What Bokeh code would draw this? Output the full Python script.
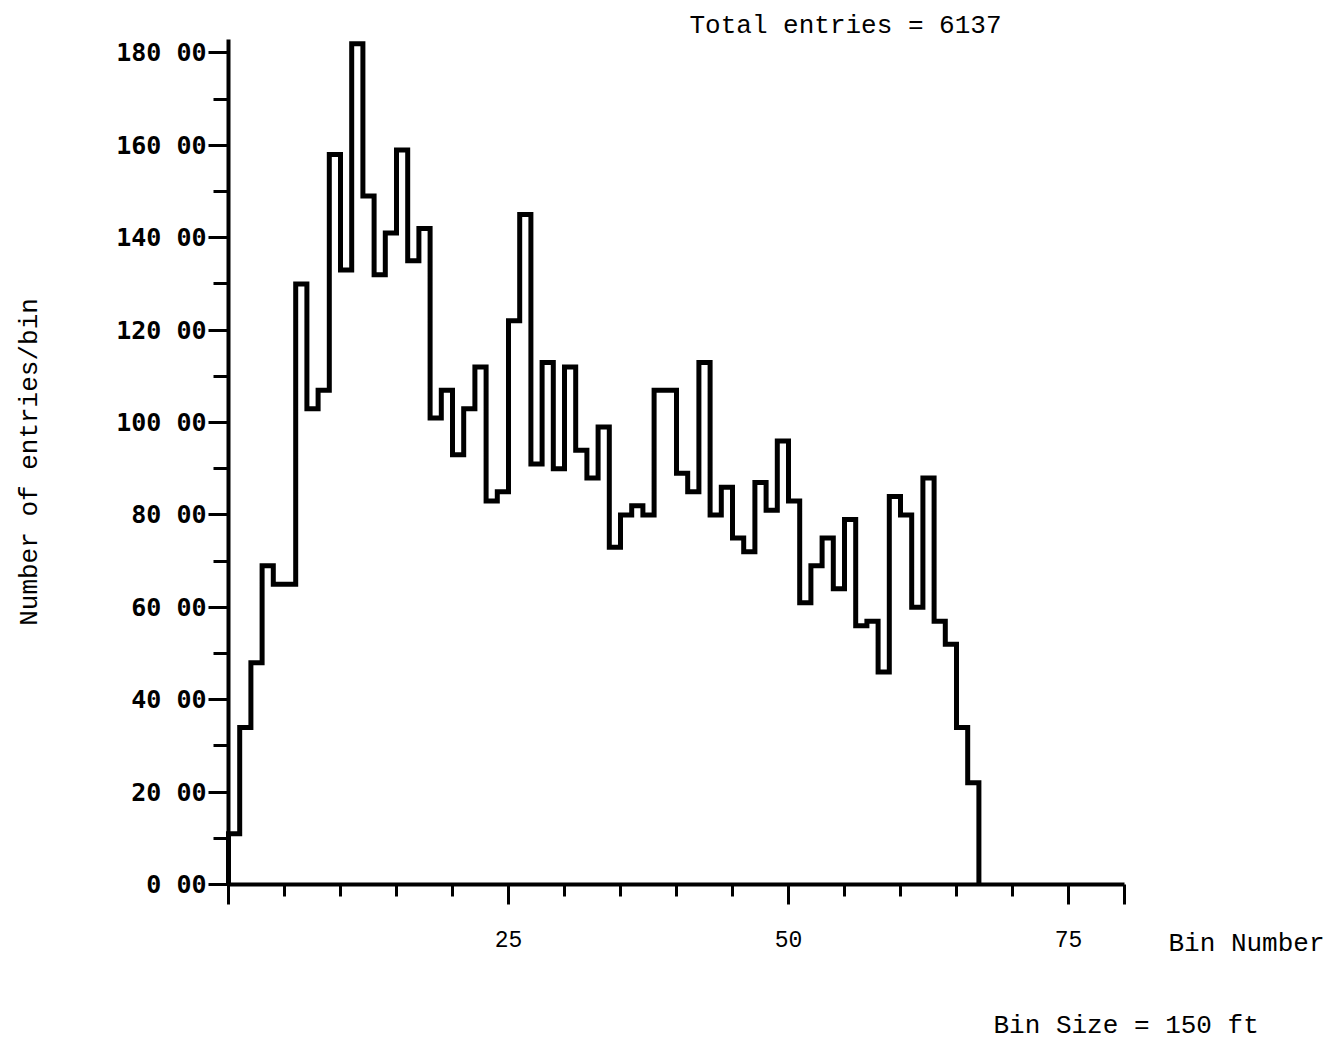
from bokeh.plotting import figure
from bokeh.models import FixedTicker, Label, Range1d
from bokeh.embed import file_html
from bokeh.resources import INLINE

# Histogram counts per bin (bin 0 .. 66)
counts = [11, 34, 48, 69, 65, 65, 130, 103, 107, 158,
          133, 182, 149, 132, 141, 159, 135, 142, 101, 107,
          93, 103, 112, 83, 85, 122, 145, 91, 113, 90,
          112, 94, 88, 99, 73, 80, 82, 80, 107, 107,
          89, 85, 113, 80, 86, 75, 72, 87, 81, 96,
          83, 61, 69, 75, 64, 79, 56, 57, 46, 84,
          80, 60, 88, 57, 52, 34, 22]

y_ticks = [0, 20, 40, 60, 80, 100, 120, 140, 160, 180]
y_tick_labels = ["0 00", "20 00", "40 00", "60 00", "80 00",
                 "100 00", "120 00", "140 00", "160 00", "180 00"]
y_minor = [10, 30, 50, 70, 90, 110, 130, 150, 170]

x_ticks = [0, 25, 50, 75, 80]
x_tick_labels = ["", "25", "50", "75", ""]
x_minor = [5, 10, 15, 20, 30, 35, 40, 45, 55, 60, 65, 70]

title_text = "Total entries = 6137"
x_title = "Bin Number"
bin_note = "Bin Size = 150 ft"
y_title = "Number of entries/bin"

MONO = "Liberation Mono"

W, H = 1333, 1039
X0_PX, Y0_PX = 228, 884      # pixel position of data origin
XS, YS = 11.2, 4.62          # pixels per data unit

p = figure(width=W, height=H,
           x_range=Range1d(-X0_PX / XS, (W - X0_PX) / XS),
           y_range=Range1d(-(H - Y0_PX) / YS, Y0_PX / YS),
           output_backend="svg", toolbar_location=None,
           min_border_left=0, min_border_right=0,
           min_border_top=0, min_border_bottom=0)
p.background_fill_color = "white"
p.border_fill_color = "white"
p.outline_line_color = None
p.grid.visible = False

edges = list(range(len(counts) + 1))
xs = [edges[0]] + edges
ys = [0] + counts + [0]
p.step(x=xs, y=ys, mode="after", line_color="black", line_width=5,
       line_join="miter")

# Axes placed at fixed data locations
p.xaxis.fixed_location = 0
p.yaxis.fixed_location = 0
p.xaxis.bounds = (0, 80)
p.yaxis.bounds = (0, 183)

for ax in (p.xaxis[0], p.yaxis[0]):
    ax.axis_line_width = 4
    ax.axis_line_color = "black"
    ax.major_tick_line_width = 3
    ax.minor_tick_line_width = 3
    ax.major_tick_in = 0
    ax.minor_tick_in = 0

p.xaxis.ticker = FixedTicker(ticks=x_ticks, minor_ticks=x_minor)
p.xaxis.major_label_overrides = {t: l for t, l in zip(x_ticks, x_tick_labels)}
p.xaxis.major_tick_out = 20
p.xaxis.minor_tick_out = 12
p.xaxis.major_label_standoff = 26
p.xaxis.major_label_text_font = MONO
p.xaxis.major_label_text_font_size = "23px"
p.xaxis.major_label_text_color = "black"

p.yaxis.ticker = FixedTicker(ticks=y_ticks, minor_ticks=y_minor)
p.yaxis.major_label_overrides = {t: l for t, l in zip(y_ticks, y_tick_labels)}
p.yaxis.major_tick_out = 20
p.yaxis.minor_tick_out = 15
p.yaxis.major_label_standoff = 2
p.yaxis.major_label_text_font = "DejaVu Sans Mono"
p.yaxis.major_label_text_font_style = "bold"
p.yaxis.major_label_text_font_size = "25px"
p.yaxis.major_label_text_baseline = "bottom"
p.yaxis.major_label_text_color = "black"
p.yaxis.axis_label = y_title
p.yaxis.axis_label_text_font = MONO
p.yaxis.axis_label_text_font_style = "normal"
p.yaxis.axis_label_text_font_size = "26px"
p.yaxis.axis_label_standoff = 68
p.yaxis.axis_label_text_color = "black"

p.add_layout(Label(x=(845 - X0_PX) / XS, y=(Y0_PX - 25) / YS, text=title_text,
                   text_font=MONO, text_font_size="26px", text_align="center",
                   text_baseline="middle", text_color="black"))
p.add_layout(Label(x=(1168 - X0_PX) / XS, y=(Y0_PX - 943) / YS, text=x_title,
                   text_font=MONO, text_font_size="26px", text_align="left",
                   text_baseline="middle", text_color="black"))
p.add_layout(Label(x=(993 - X0_PX) / XS, y=(Y0_PX - 1025) / YS, text=bin_note,
                   text_font=MONO, text_font_size="26px", text_align="left",
                   text_baseline="middle", text_color="black"))

open("out.html", "w").write(file_html(p, INLINE))
